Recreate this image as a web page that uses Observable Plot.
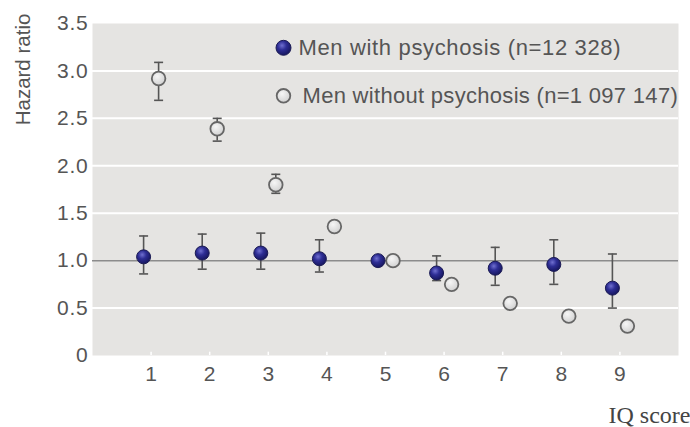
<!DOCTYPE html>
<html>
<head>
<meta charset="utf-8">
<script src="https://cdn.jsdelivr.net/npm/d3@7"></script>
<script src="https://cdn.jsdelivr.net/npm/@observablehq/plot@0.6"></script>
<style>
  html, body { margin: 0; padding: 0; background: #fff; }
  #chart { width: 690px; height: 427px; overflow: hidden; }
  .leg1 text { letter-spacing: 0.65px; }
  .leg2 text { letter-spacing: 0.3px; }
  .ytick text { letter-spacing: 0.8px; }
</style>
</head>
<body>
<div id="chart"></div>
<script>
// ---- Data ----
const iqScores = [1, 2, 3, 4, 5, 6, 7, 8, 9];
const psyHR   = [1.04, 1.08, 1.08, 1.02, 1.00, 0.87, 0.92, 0.96, 0.71];
const psyLow  = [0.86, 0.91, 0.91, 0.88, 0.99, 0.79, 0.74, 0.75, 0.50];
const psyHigh = [1.26, 1.28, 1.29, 1.22, 1.01, 1.05, 1.14, 1.22, 1.07];
const nonHR   = [2.92, 2.39, 1.80, 1.36, 1.00, 0.75, 0.55, 0.415, 0.31];
const nonLow  = [2.69, 2.26, 1.71, 1.32, 0.99, 0.73, 0.53, 0.40, 0.29];
const nonHigh = [3.09, 2.50, 1.91, 1.41, 1.01, 0.77, 0.57, 0.43, 0.33];
const seriesNames = ["Men with psychosis (n=12 328)", "Men without psychosis (n=1 097 147)"];
const yTicks = [0, 0.5, 1.0, 1.5, 2.0, 2.5, 3.0, 3.5];
const xTicks = [1, 2, 3, 4, 5, 6, 7, 8, 9];
const yLabel = "Hazard ratio";
const xLabel = "IQ score";

const psy = iqScores.map((iq, i) => ({iq, hr: psyHR[i], low: psyLow[i], high: psyHigh[i]}));
const non = iqScores.map((iq, i) => ({iq, hr: nonHR[i], low: nonLow[i], high: nonHigh[i]}));

const capSymbol = {
  draw(context, size) {
    const w = Math.sqrt(size / Math.PI);
    context.moveTo(-w, 0);
    context.lineTo(w, 0);
  }
};

const barColor = "#555";
const off = 7.5;

function errorMarks(data, dx) {
  return [
    Plot.ruleX(data, {x: "iq", y1: "low", y2: "high", dx, stroke: barColor, strokeWidth: 1.6}),
    Plot.dot(data, {x: "iq", y: "low", dx, symbol: capSymbol, r: 4.5, stroke: barColor, strokeWidth: 1.6}),
    Plot.dot(data, {x: "iq", y: "high", dx, symbol: capSymbol, r: 4.5, stroke: barColor, strokeWidth: 1.6})
  ];
}

const chart = Plot.plot({
  width: 690,
  height: 427,
  marginLeft: 92,
  marginRight: 12,
  marginTop: 23,
  marginBottom: 72,
  style: {fontFamily: "'Liberation Sans', Arial, sans-serif", fontSize: "21px", color: "#555", background: "#fff", overflow: "visible"},
  x: {domain: [0, 10], label: null},
  y: {domain: [0, 3.5], label: null},
  marks: [
    Plot.frame({fill: "#e5e4e2", stroke: null}),
    Plot.ruleY(yTicks.filter(v => v !== 0 && v !== 1 && v !== 3.5), {stroke: "#fff", strokeWidth: 2}),
    Plot.ruleY([1], {stroke: "#8c8c8c", strokeWidth: 1.5}),
    Plot.ruleX(xTicks, {y1: 0, y2: 0.035, stroke: "#fff", strokeWidth: 1.5}),
    Plot.axisY(yTicks, {className: "ytick", tickSize: 0, tickPadding: 4, fontSize: 21, tickFormat: d => d === 0 ? "0" : d.toFixed(1), label: null}),
    Plot.axisX(xTicks, {tickSize: 0, tickPadding: 11, fontSize: 21, label: null}),
    ...errorMarks(non, off),
    ...errorMarks(psy, -off),
    Plot.dot(non, {x: "iq", y: "hr", dx: off, r: 6.8, fill: "url(#greyGrad)", stroke: "#666", strokeWidth: 1.8}),
    Plot.dot(psy, {x: "iq", y: "hr", dx: -off, r: 7, fill: "url(#blueGrad)", stroke: "#1c1c55", strokeWidth: 1}),
    // legend
    Plot.dot([seriesNames[0]], {frameAnchor: "top-left", dx: 191, dy: 24.3, r: 7.5, fill: "url(#blueGrad)", stroke: "#1c1c55", strokeWidth: 1}),
    Plot.dot([seriesNames[1]], {frameAnchor: "top-left", dx: 191, dy: 72.3, r: 6.8, fill: "url(#greyGrad)", stroke: "#666", strokeWidth: 1.8}),
    Plot.text([seriesNames[0]], {className: "leg1", frameAnchor: "top-left", dx: 206, dy: 24.3, text: d => d, textAnchor: "start", lineAnchor: "middle", fontSize: 22, fill: "#555"}),
    Plot.text([seriesNames[1]], {className: "leg2", frameAnchor: "top-left", dx: 210, dy: 72.3, text: d => d, textAnchor: "start", lineAnchor: "middle", fontSize: 22, fill: "#555"}),
    // axis titles
    Plot.text([yLabel], {frameAnchor: "top-left", dx: -69, dy: 46, rotate: -90, text: d => d, textAnchor: "middle", lineAnchor: "middle", fontSize: 20.5, fill: "#555"}),
    Plot.text([xLabel], {frameAnchor: "bottom-right", dx: 12, dy: 60, text: d => d, textAnchor: "end", lineAnchor: "middle", fontSize: 24, fill: "#444", fontFamily: "'Liberation Serif', 'Times New Roman', serif"})
  ]
});

// gradients for the markers
const svgNS = "http://www.w3.org/2000/svg";
const defs = document.createElementNS(svgNS, "defs");
defs.innerHTML = `
  <radialGradient id="blueGrad" cx="0.4" cy="0.35" r="0.65">
    <stop offset="0" stop-color="#7070d0"/>
    <stop offset="0.45" stop-color="#2e2e95"/>
    <stop offset="1" stop-color="#171760"/>
  </radialGradient>
  <radialGradient id="greyGrad" cx="0.4" cy="0.35" r="0.7">
    <stop offset="0" stop-color="#f6f6f6"/>
    <stop offset="1" stop-color="#cfcfcf"/>
  </radialGradient>`;
chart.insertBefore(defs, chart.firstChild);

document.getElementById("chart").appendChild(chart);
</script>
</body>
</html>
